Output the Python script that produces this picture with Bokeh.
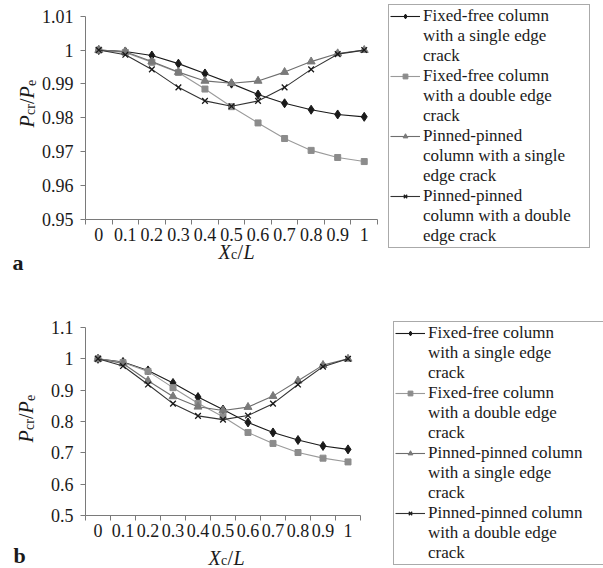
import math
from bokeh.plotting import figure
from bokeh.models import Range1d, FixedTicker, Legend, LegendItem, Label
from bokeh.layouts import column
from bokeh.embed import file_html
from bokeh.resources import INLINE

# ---------------- data ----------------
x_labels = ["0", "0.1", "0.2", "0.3", "0.4", "0.5", "0.6", "0.7", "0.8", "0.9", "1"]

# panel a
ff_single_a = [1.0, 0.9996, 0.9984, 0.9960, 0.9931, 0.9901, 0.9869, 0.9843, 0.9824, 0.9810, 0.9803]
ff_double_a = [1.0, 0.9993, 0.9964, 0.9934, 0.9885, 0.9833, 0.9785, 0.9739, 0.9704, 0.9683, 0.9671]
pp_single_a = [1.0, 0.9995, 0.9966, 0.9935, 0.9909, 0.9902, 0.9909, 0.9935, 0.9966, 0.9990, 1.0]
pp_double_a = [1.0, 0.9986, 0.9943, 0.9890, 0.9850, 0.9834, 0.9850, 0.9890, 0.9943, 0.9988, 1.0]
y_ticks_a = [0.95, 0.96, 0.97, 0.98, 0.99, 1.0, 1.01]
y_labels_a = ["0.95", "0.96", "0.97", "0.98", "0.99", "1", "1.01"]
legend_a = [
    ["Fixed-free column", "with a single edge", "crack"],
    ["Fixed-free column", "with a double edge", "crack"],
    ["Pinned-pinned", "column with a single", "edge crack"],
    ["Pinned-pinned", "column with a double", "edge crack"],
]

# panel b
ff_single_b = [1.0, 0.990, 0.963, 0.923, 0.878, 0.838, 0.797, 0.765, 0.741, 0.722, 0.711]
ff_double_b = [1.0, 0.988, 0.960, 0.908, 0.858, 0.815, 0.765, 0.730, 0.701, 0.683, 0.671]
pp_single_b = [1.0, 0.985, 0.930, 0.880, 0.847, 0.835, 0.846, 0.881, 0.930, 0.980, 1.0]
pp_double_b = [1.0, 0.977, 0.918, 0.857, 0.818, 0.806, 0.819, 0.857, 0.918, 0.975, 1.0]
y_ticks_b = [0.5, 0.6, 0.7, 0.8, 0.9, 1.0, 1.1]
y_labels_b = ["0.5", "0.6", "0.7", "0.8", "0.9", "1", "1.1"]
legend_b = [
    ["Fixed-free column", "with a single edge", "crack"],
    ["Fixed-free column", "with a double edge", "crack"],
    ["Pinned-pinned column", "with a single edge", "crack"],
    ["Pinned-pinned column", "with a double edge", "crack"],
]

SERIF = "Liberation Serif"
AXIS_COLOR = "#7a7a7a"
TEXT_COLOR = "#1a1a1a"
W = 603

STYLES = [
    dict(line="#1a1a1a", marker="diamond", size=9, fill="#1a1a1a", mline="#1a1a1a", mw=1),
    dict(line="#9a9a9a", marker="square", size=6, fill="#8c8c8c", mline="#8c8c8c", mw=1),
    dict(line="#6e6e6e", marker="triangle", size=8, fill="#7a7a7a", mline="#7a7a7a", mw=1),
    dict(line="#333333", marker="x", size=8, fill=None, mline="#1a1a1a", mw=1.3),
]


def build(series, y_ticks, y_labels, H, area, legend_labels, legend_xy, legend_lw,
          ylab, xlab, letter, letter_pos):
    """area = (left, right, top, bottom) of the plot area in block pixels."""
    L, R, T, B = area
    n = len(x_labels)
    x0, x1 = 0.0, float(n)
    y0, y1 = y_ticks[0], y_ticks[-1]
    sx = (R - L) / (x1 - x0)
    sy = (B - T) / (y1 - y0)
    x_range = Range1d(x0 - L / sx, x1 + (W - R) / sx)
    y_range = Range1d(y0 - (H - B) / sy, y1 + T / sy)

    x_pos = [i + 0.5 for i in range(n)]
    p = figure(width=W, height=H, min_border=0,
               x_range=x_range, y_range=y_range,
               output_backend="svg", toolbar_location=None)
    p.min_border_left = 0
    p.min_border_right = 0
    p.min_border_top = 0
    p.min_border_bottom = 0
    p.outline_line_color = None
    p.grid.visible = False
    p.background_fill_color = "white"
    p.border_fill_color = "white"

    items = []
    for vals, st, lines in zip(series, STYLES, legend_labels):
        rl = p.line(x_pos, vals, line_color=st["line"], line_width=1.1)
        if st["fill"] is None:
            rs = p.scatter(x_pos, vals, marker=st["marker"], size=st["size"],
                           line_color=st["mline"], line_width=st["mw"])
        else:
            rs = p.scatter(x_pos, vals, marker=st["marker"], size=st["size"],
                           fill_color=st["fill"], line_color=st["mline"], line_width=st["mw"])
        items.append(LegendItem(label=lines[0], renderers=[rl, rs]))
        for extra in lines[1:]:
            items.append(LegendItem(label=extra, renderers=[]))

    xa = p.xaxis[0]
    xa.fixed_location = y0
    xa.bounds = (x0, x1)
    xa.ticker = FixedTicker(ticks=x_pos, minor_ticks=list(range(n + 1)))
    xa.major_label_overrides = {xp: lb for xp, lb in zip(x_pos, x_labels)}
    xa.major_tick_out = 0
    xa.major_tick_in = 0
    xa.minor_tick_out = 5
    xa.minor_tick_in = 0
    xa.minor_tick_line_color = AXIS_COLOR
    xa.axis_line_color = AXIS_COLOR
    xa.major_label_standoff = 3
    xa.major_label_text_font = SERIF
    xa.major_label_text_font_size = "18px"
    xa.major_label_text_color = TEXT_COLOR

    ya = p.yaxis[0]
    ya.fixed_location = x0
    ya.bounds = (y0, y1)
    ya.ticker = FixedTicker(ticks=y_ticks)
    ya.major_label_overrides = {t: lb for t, lb in zip(y_ticks, y_labels)}
    ya.major_tick_out = 5
    ya.major_tick_in = 0
    ya.minor_tick_out = 0
    ya.major_tick_line_color = AXIS_COLOR
    ya.axis_line_color = AXIS_COLOR
    ya.major_label_standoff = 7
    ya.major_label_text_font = SERIF
    ya.major_label_text_font_size = "18px"
    ya.major_label_text_color = TEXT_COLOR

    lx, lb_ = legend_xy
    legend = Legend(items=items, location=(lx, H - lb_), margin=0, padding=1, spacing=0,
                    glyph_width=30, glyph_height=12, label_height=10, label_width=legend_lw,
                    label_standoff=3,
                    label_text_font=SERIF, label_text_font_size="17px",
                    label_text_color=TEXT_COLOR,
                    border_line_color="#555555", border_line_width=1,
                    background_fill_color="white", background_fill_alpha=1.0)
    p.add_layout(legend)

    def label(text, x, y, size, style="normal", angle=0.0):
        # x, y in block pixels measured from the top-left corner
        p.add_layout(Label(x=x, y=H - y, x_units="screen", y_units="screen", text=text,
                           text_font=SERIF, text_font_size=size, text_font_style=style,
                           text_color=TEXT_COLOR, angle=angle, text_align="left",
                           text_baseline="alphabetic"))

    # y-axis label  P_cr / P_e  (rotated, read bottom to top)
    yx, ys = ylab
    rot = math.pi / 2
    label("P", yx, ys, "20px", "italic", rot)
    label("cr", yx + 4, ys - 12.5, "14px", "normal", rot)
    label("/", yx, ys - 23.5, "20px", "normal", rot)
    label("P", yx, ys - 29, "20px", "italic", rot)
    label("e", yx + 4, ys - 41.5, "14px", "normal", rot)

    # x-axis label  X_c / L
    bx, by = xlab
    label("X", bx, by, "20px", "italic")
    label("c", bx + 12.5, by + 3, "14px", "normal")
    label("/", bx + 19, by, "20px", "normal")
    label("L", bx + 25, by, "20px", "italic")

    # panel letter
    label(letter, letter_pos[0], letter_pos[1], "22px", "bold")
    return p


pa = build([ff_single_a, ff_double_a, pp_single_a, pp_double_a], y_ticks_a, y_labels_a,
           285, (85, 377, 15.7, 219), legend_a, (388, 248), 165,
           (26, 127), (218, 251), "a", (12, 262))
pb = build([ff_single_b, ff_double_b, pp_single_b, pp_double_b], y_ticks_b, y_labels_b,
           283, (85, 360, 42, 230), legend_b, (393, 280), 215,
           (25, 157), (208, 272), "b", (13, 270))

layout = column(pa, pb, spacing=0)
open("out.html", "w").write(file_html(layout, INLINE))
